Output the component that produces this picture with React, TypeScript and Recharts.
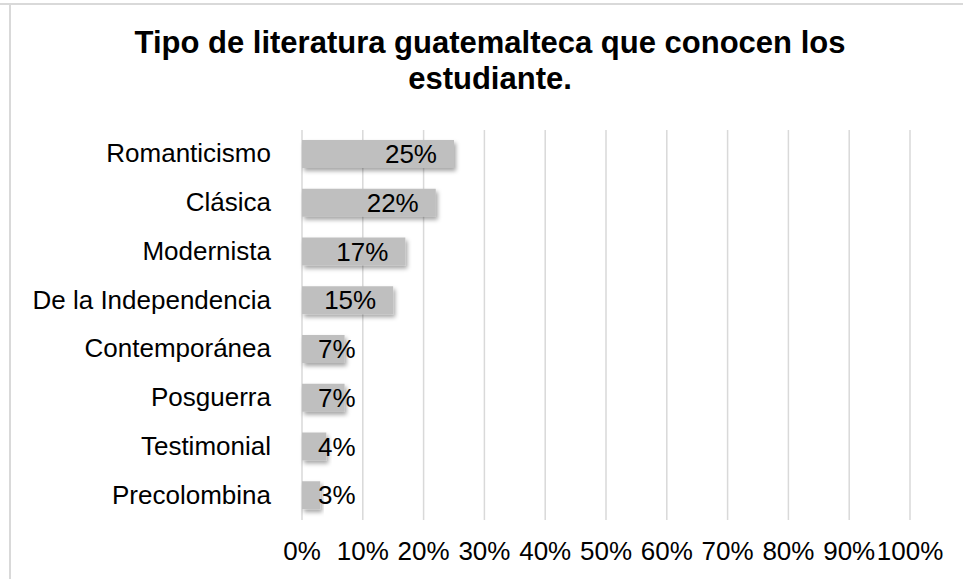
import * as React from 'react';
import { BarChart, Bar, XAxis, YAxis, CartesianGrid, LabelList } from 'recharts';

const categories = [
  'Romanticismo',
  'Clásica',
  'Modernista',
  'De la Independencia',
  'Contemporánea',
  'Posguerra',
  'Testimonial',
  'Precolombina',
];
const percents = [25, 22, 17, 15, 7, 7, 4, 3];
const xTicks = [0, 10, 20, 30, 40, 50, 60, 70, 80, 90, 100];
const titleLines = ['Tipo de literatura guatemalteca que conocen los', 'estudiante.'];

const data = categories.map((name, i) => ({ name, value: percents[i] }));

const FONT = '"Liberation Sans", Arial, sans-serif';
const FS = 26;

const YTick = ({ x, y, payload }: any) => (
  <text x={x} y={y + 8} textAnchor="end" fontFamily={FONT} fontSize={FS} fill="#000">
    {payload.value}
  </text>
);

const XTick = ({ x, y, payload }: any) => (
  <text x={x} y={y + 16} textAnchor="middle" fontFamily={FONT} fontSize={FS} fill="#000">
    {`${payload.value}%`}
  </text>
);

// excel-like label: inside end, pushed right when bar is too short
const ValueLabel = ({ x, y, width, height, value }: any) => {
  const txt = `${value}%`;
  const w = (String(value).length * 0.556 + 0.889) * FS;
  let right = x + width - 17;
  if (right - w < x + 16) right = x + 16 + w;
  return (
    <text x={right} y={y + height / 2 + 9} textAnchor="end" fontFamily={FONT} fontSize={FS} fill="#000">
      {txt}
    </text>
  );
};

export default function App() {
  return (
    <div style={{ position: 'absolute', left: 0, top: 0, width: 963, height: 579, background: '#fff', overflow: 'hidden' }}>
      <div style={{ position: 'absolute', left: 0, top: 3, width: 963, height: 0, borderTop: '2px solid #d9d9d9' }} />
      <div style={{ position: 'absolute', left: 9, top: 3, width: 0, height: 580, borderLeft: '2px solid #d9d9d9' }} />
      {titleLines.map((line, i) => (
        <div
          key={i}
          style={{
            position: 'absolute',
            left: 0,
            width: 980,
            top: 25 + i * 36,
            lineHeight: '36px',
            textAlign: 'center',
            fontFamily: FONT,
            fontWeight: 'bold',
            fontSize: 31,
            color: '#000',
            whiteSpace: 'nowrap',
          }}
        >
          {line}
        </div>
      ))}
      <div style={{ position: 'absolute', left: 0, top: 0 }}>
        <BarChart
          width={963}
          height={579}
          data={data}
          layout="vertical"
          margin={{ top: 130, right: 53, bottom: 0, left: 0 }}
          barSize={28}
        >
          <defs>
            <filter id="shadow" x="-10%" y="-20%" width="130%" height="160%">
              <feDropShadow dx="2" dy="3" stdDeviation="2" floodColor="#000" floodOpacity="0.35" />
            </filter>
          </defs>
          <CartesianGrid horizontal={false} stroke="#d9d9d9" strokeWidth={1.5} />
          <XAxis
            type="number"
            domain={[0, 100]}
            ticks={xTicks}
            interval={0}
            axisLine={false}
            tickLine={false}
            height={59}
            tickMargin={18}
            tick={<XTick />}
          />
          <YAxis
            type="category"
            dataKey="name"
            width={302}
            axisLine={false}
            tickLine={false}
            tickMargin={25}
            tick={<YTick />}
          />
          <Bar dataKey="value" fill="#bfbfbf" filter="url(#shadow)" isAnimationActive={false}>
            <LabelList dataKey="value" content={<ValueLabel />} />
          </Bar>
        </BarChart>
      </div>
    </div>
  );
}
